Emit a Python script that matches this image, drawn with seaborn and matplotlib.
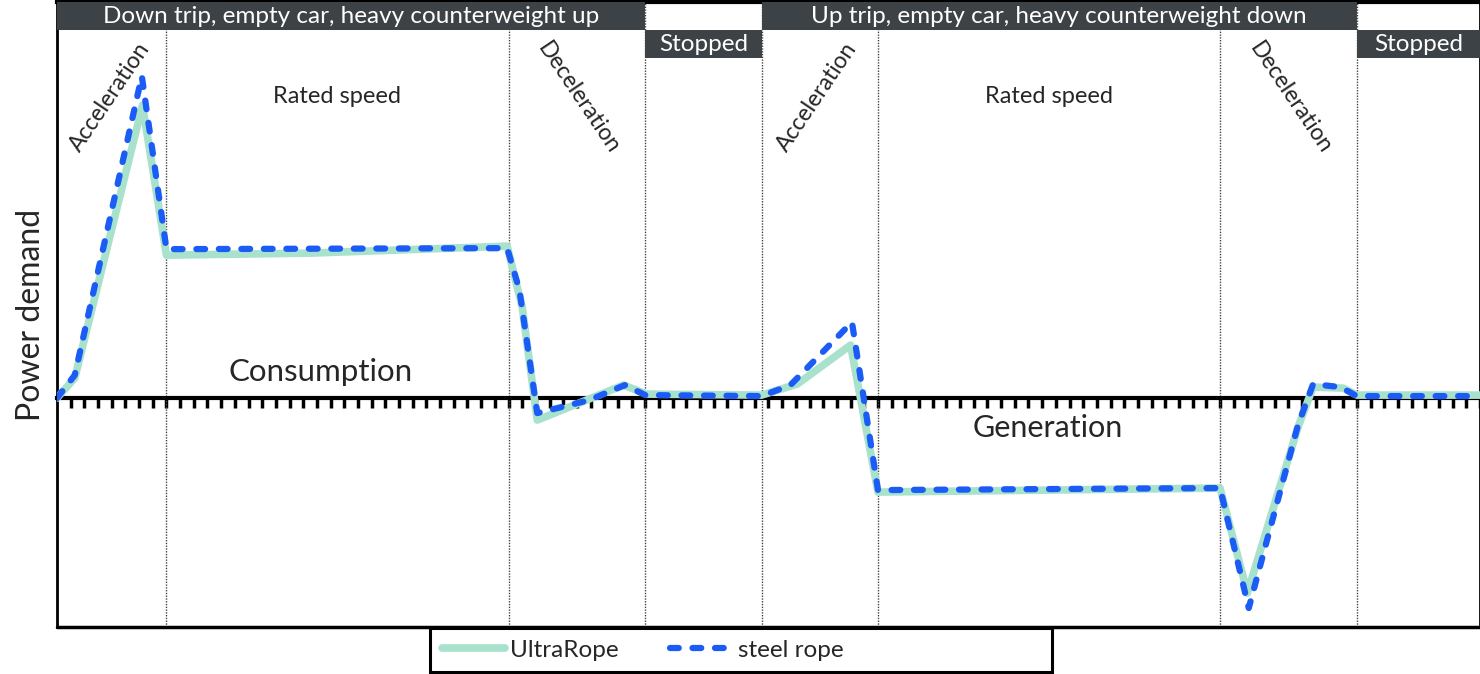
import matplotlib
matplotlib.use('Agg')
import matplotlib.pyplot as plt
from matplotlib.patches import Rectangle
import seaborn as sns
import pandas as pd

# power demand over one round trip (time in ticks, power in arbitrary units)
ultra_t = [0, 1.3, 6.25, 8.0, 18.5, 32.9, 34.0, 35.1, 38.7, 41.4, 43.1, 51.5, 54.1, 58.0,
           60.0, 85.0, 87.0, 90.7, 91.8, 94.0, 95.0, 104.0]
ultra_p = [0, 2.0, 29.3, 14.3, 14.5, 15.2, 9.1, -2.2, -0.2, 1.3, 0.4, 0.3, 1.4, 5.3,
           -9.4, -9.0, -19.5, -2.9, 1.1, 1.0, 0.3, 0.3]

steel_t = [0, 1.3, 6.2, 8.0, 32.9, 33.8, 35.1, 38.9, 41.5, 43.0, 51.5, 53.6, 58.1,
           60.0, 85.0, 87.1, 90.7, 91.8, 93.8, 95.0, 104.0]
steel_p = [0, 2.3, 32.2, 14.9, 15.0, 10.8, -1.5, -0.2, 1.3, 0.3, 0.2, 1.3, 7.6,
           -9.2, -9.0, -21.0, -2.7, 1.4, 1.1, 0.2, 0.2]

# phase boundaries
phase_edges = [8, 33, 43, 51.5, 60, 85, 95]
trips = ['Down trip, empty car, heavy counterweight up', 'Up trip, empty car, heavy counterweight down']
trip_spans = [(0, 43), (51.5, 95)]
stop_spans = [(43, 51.5), (95, 104)]

ultra_df = pd.DataFrame({'t': ultra_t, 'p': ultra_p})
steel_df = pd.DataFrame({'t': steel_t, 'p': steel_p})

sns.set_theme(style="white")
plt.rcParams['font.family'] = ['Lato', 'DejaVu Sans']

fig = plt.figure(figsize=(14.8, 6.74), dpi=100)
ax = fig.add_axes([0.0385, 0.0697, 0.9615, 0.927])

green = '#a9e2cc'
blue = '#1a5cf5'
header = '#3c4245'

sns.lineplot(data=ultra_df, x='t', y='p', ax=ax, color=green, linewidth=5.5,
             sort=False, estimator=None, label='UltraRope', zorder=4)
sns.lineplot(data=steel_df, x='t', y='p', ax=ax, color=blue, linewidth=4.5,
             sort=False, estimator=None, label='steel rope', zorder=5)
steel_line = ax.get_lines()[1]
steel_line.set_linestyle((0, (1.4, 2.2)))
steel_line.set_dash_capstyle('round')

ax.set_xlim(0, 104)
ax.set_ylim(-22.9, 39.6)

for x in phase_edges:
    ax.axvline(x, color='#444444', lw=1.0, ls=(0, (1, 1)), zorder=1)

# header bars
for (a, b), txt in zip(trip_spans, trips):
    ax.axvspan(a, b, ymin=0.955, ymax=1.0, color=header, zorder=6, lw=0)
    ax.text((a + b) / 2, 0.977, txt, transform=ax.get_xaxis_transform(), color='white',
            ha='center', va='center', fontsize=17.5, zorder=7)
for a, b in stop_spans:
    ax.axvspan(a, b, ymin=0.91, ymax=0.955, color=header, zorder=6, lw=0)
    ax.text((a + b) / 2, 0.932, 'Stopped', transform=ax.get_xaxis_transform(), color='white',
            ha='center', va='center', fontsize=17.5, zorder=7)

# phase labels
for x in [3.83, 55.55]:
    ax.text(x, 30.1, 'Acceleration', rotation=56, ha='center', va='center', fontsize=16.5)
for x in [38.1, 90.15]:
    ax.text(x, 30.0, 'Deceleration', rotation=-56, ha='center', va='center', fontsize=16.5)
for x in [20.5, 72.5]:
    ax.text(x, 30.2, 'Rated speed', ha='center', va='center', fontsize=17)
ax.text(19.3, 2.6, 'Consumption', ha='center', va='center', fontsize=22.5)
ax.text(72.4, -3.0, 'Generation', ha='center', va='center', fontsize=22)

ax.set_xlabel('')
ax.set_ylabel('Power demand', fontsize=23, labelpad=8)
ax.set_yticks([])
ax.set_xticks(range(1, 105))
ax.tick_params(axis='x', direction='out', length=7, width=2.5, color='black',
               labelbottom=False, bottom=True)
ax.spines['bottom'].set_position(('data', 0))
ax.spines['bottom'].set_linewidth(3)
ax.spines['bottom'].set_zorder(3)
ax.spines['left'].set_linewidth(2)
ax.spines['top'].set_linewidth(3)
ax.spines['right'].set_linewidth(2)
for s in ax.spines.values():
    s.set_color('black')
# lower frame edge
ax.axhline(-22.9, color='black', lw=2.5, clip_on=False)

handles, labels = ax.get_legend_handles_labels()
ax.get_legend().remove()
fig.legend(handles, labels, loc='center left', bbox_to_anchor=(442 / 1480, 1 - 650 / 674), ncol=2,
           frameon=False, prop={'size': 17.5}, handlelength=2.6, columnspacing=2.1,
           borderpad=0, borderaxespad=0, handletextpad=0.2)
# legend box, wider than its entries as in the original
fig.patches.append(Rectangle((430 / 1480, 2 / 674), 622 / 1480, 44 / 674, transform=fig.transFigure,
                             fill=False, edgecolor='black', linewidth=2.2))

fig.savefig('out.png', dpi=100)
